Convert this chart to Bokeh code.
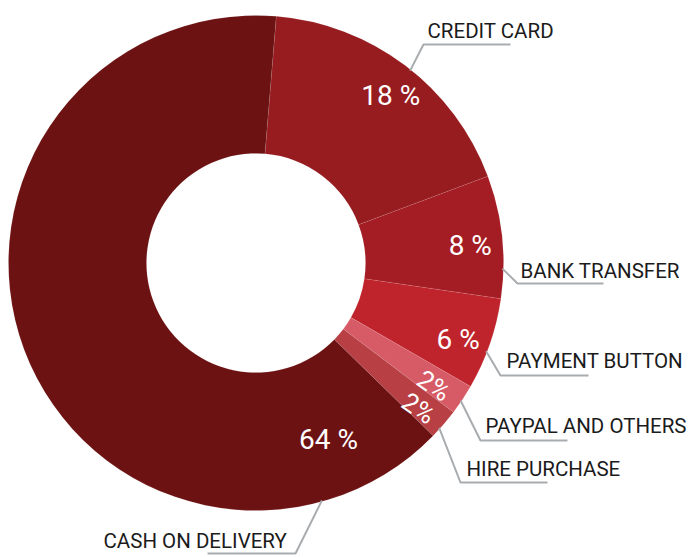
import math
from bokeh.plotting import figure
from bokeh.models import Range1d, ColumnDataSource
from bokeh.embed import file_html
from bokeh.resources import INLINE
from bokeh.core.properties import value

# ---- data ----
categories = ["CREDIT CARD", "BANK TRANSFER", "PAYMENT BUTTON",
              "PAYPAL AND OTHERS", "HIRE PURCHASE", "CASH ON DELIVERY"]
shares = [18, 8, 6, 2, 2, 64]
pct_labels = ["18 %", "8 %", "6 %", "2%", "2%", "64 %"]
colors = ["#971c20", "#a51d24", "#bf232b", "#d65b66", "#b83f43", "#6d1212"]

# ---- layout (pixels, page coordinates) ----
W, H = 692, 557
def X(px): return px
def Y(py): return H - py

CX, CY = 255.5, 262.5
R_OUT, R_IN = 247.5, 109.5
START = 4.7  # degrees clockwise from 12 o'clock

def polar(theta, r):
    a = math.radians(theta)
    return CX + r * math.sin(a), CY - r * math.cos(a)

# percentage label placement (deg cw from top, radius, rotation deg, size)
pct_pos = [(38.8, 215, 0, 28), (85.3, 215, 0, 28), (110.7, 216, 0, 28),
           (124.6, 216, -34, 26), (131.8, 218, -34, 26), (157.7, 191, 0, 28)]
# category label: anchor angle on rim, elbow point, underline end, text start/cap-centre
cat_pos = [
    (38.7, (423, 44), 510, (427, 30.5)),
    (91.3, (517, 283), 603, (520, 270.5)),
    (111.0, (500, 375), 588, (506, 360.5)),
    (123.9, (480, 440), 567, (485, 425.5)),
    (132.0, (460, 482), 547, (466, 468)),
    (164.5, (295, 553), 207, (103, 540.5)),
]

# ---- wedges ----
starts, ends = [], []
cum = 0.0
for s in shares:
    t0 = START + 3.6 * cum
    t1 = t0 + 3.6 * s
    starts.append(math.radians(90 - t0))
    ends.append(math.radians(90 - t1))
    cum += s

src = ColumnDataSource(dict(cat=categories, share=shares, color=colors,
                            start=starts, end=ends))

p = figure(width=W, height=H, output_backend="svg", toolbar_location=None,
           x_range=Range1d(0, W), y_range=Range1d(0, H), min_border=0)
p.axis.visible = False
p.grid.visible = False
p.outline_line_color = None
p.background_fill_color = "white"
p.border_fill_color = "white"

p.annular_wedge(x=X(CX), y=Y(CY), inner_radius=R_IN, outer_radius=R_OUT,
                start_angle="start", end_angle="end", direction="clock",
                fill_color="color", line_color="white", line_alpha=0.15,
                line_width=0.6, source=src)

# percentage labels
px, py, ang, sz = [], [], [], []
for (th, r, rot, s) in pct_pos:
    x, y = polar(th, r)
    px.append(X(x)); py.append(Y(y)); ang.append(math.radians(rot)); sz.append(f"{s}px")
psrc = ColumnDataSource(dict(x=px, y=py, t=pct_labels, a=ang, s=sz))
p.text(x="x", y="y", text="t", angle="a", text_font_size="s", source=psrc,
       text_color="white", text_align="center", text_baseline="middle",
       text_font=value("Roboto"))

# leader lines and category labels
xs, ys, tx, ty = [], [], [], []
for (th, elbow, uend, (lx, ly)) in cat_pos:
    ax, ay = polar(th, R_OUT - 1)
    xs.append([X(ax), X(elbow[0]), X(uend)])
    ys.append([Y(ay), Y(elbow[1]), Y(elbow[1])])
    tx.append(X(lx)); ty.append(Y(ly))
p.multi_line(xs=xs, ys=ys, line_color="#a9acaf", line_width=2)
p.text(x=tx, y=ty, text=categories, text_color="#1b1b1b",
       text_font_size="20.5px", text_align="left", text_baseline="middle",
       text_font=value("Roboto"))

open("out.html", "w").write(file_html(p, INLINE))
